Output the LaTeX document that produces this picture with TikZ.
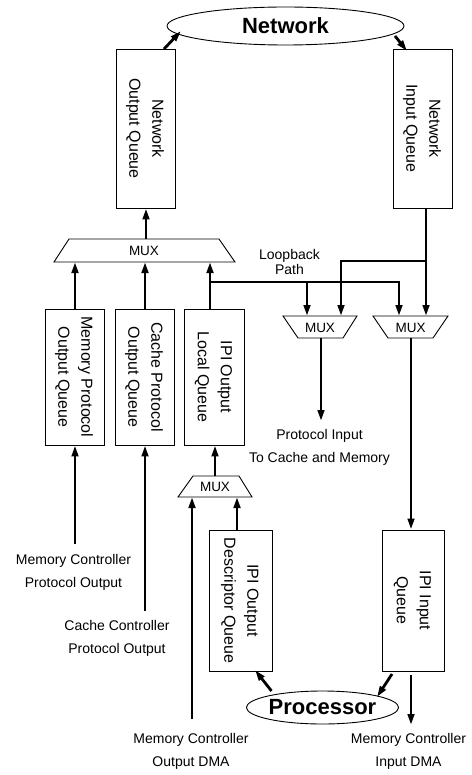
\documentclass[tikz,border=0pt]{standalone}
\usepackage{fontspec}
\usepackage{graphicx}
\setmainfont{Liberation Sans}
\usetikzlibrary{arrows.meta,shapes.geometric,calc}
\newcommand\qlabel[1]{\rotatebox{-90}{\fontsize{16}{23}\selectfont\begin{tabular}{@{}c@{}}#1\end{tabular}}}
\begin{document}
\begin{tikzpicture}[x=1pt,y=-1pt,
  box/.style={draw,line width=0.9pt,inner sep=0pt},
  arr/.style={line width=2.8pt,-{Triangle[length=11pt,width=6.5pt]}},
  lbl/.style={align=center,font=\fontsize{14}{23}\selectfont,inner sep=0pt},
  muxt/.style={font=\fontsize{13.5}{15}\selectfont,inner sep=0pt},
  trap/.style={draw,line width=0.9pt},
  big/.style={draw,ellipse,line width=0.9pt,inner sep=0pt,font=\fontsize{22}{26}\selectfont\bfseries}]
\useasboundingbox (0,0) rectangle (471,775);

% main nodes
\node[big,minimum width=237pt,minimum height=38pt] (net) at (285.5,26) {Network};
\node[box,minimum width=59pt,minimum height=159pt] (noq) at (145.5,128.5) {\qlabel{Network\\Output Queue}};
\node[box,minimum width=59pt,minimum height=159pt] (niq) at (422.5,128.5) {\qlabel{Network\\Input Queue}};
\node[box,minimum width=59pt,minimum height=136pt] (mpq) at (74.5,377) {\qlabel{Memory Protocol\\Output Queue}};
\node[box,minimum width=59pt,minimum height=136pt] (cpq) at (144.5,377) {\qlabel{Cache Protocol\\Output Queue}};
\node[box,minimum width=60pt,minimum height=136pt] (ilq) at (214,377) {\qlabel{IPI Output\\Local Queue}};
\node[box,minimum width=63pt,minimum height=141pt] (idq) at (240.5,600.5) {\qlabel{IPI Output\\Descriptor Queue}};
\node[box,minimum width=62pt,minimum height=141pt] (iiq) at (413,600.5) {\qlabel{IPI Input\\Queue}};
\node[big,minimum width=139pt,minimum height=33pt] (proc) at (322.5,707.5) {Processor};

% multiplexers
\draw[trap] (69,239) -- (219,239) -- (235,262) -- (54,262) -- cycle;
\node[muxt] (muxA) at (144,251) {MUX};
\draw[trap] (283,316) -- (357,316) -- (343,338) -- (298,338) -- cycle;
\node[muxt] (muxB) at (320,327.5) {MUX};
\draw[trap] (373,316) -- (448,316) -- (433,338) -- (388,338) -- cycle;
\node[muxt] (muxC) at (410.5,327.5) {MUX};
\draw[trap] (193,476) -- (239,476) -- (252,497) -- (178,497) -- cycle;
\node[muxt] (muxD) at (215,487) {MUX};

% ports
\coordinate (aIn1) at (75,262);
\coordinate (aIn2) at (145,262);
\coordinate (aIn3) at (210,262);
\coordinate (aOut) at (146,239);
\coordinate (bIn1) at (307,316);
\coordinate (bIn2) at (341,316);
\coordinate (bOut) at (321,338);
\coordinate (cIn1) at (399,316);
\coordinate (cIn2) at (426,316);
\coordinate (cOut) at (411,338);
\coordinate (dIn1) at (192,497);
\coordinate (dIn2) at (237,497);
\coordinate (dOut) at (215,476);
\coordinate (lj) at (210,282);
\coordinate (nj) at (426,261);
\coordinate (pie) at (321,421);
\coordinate (iiqOut) at (411,675);
\coordinate (idma) at (411,725);
\coordinate (odma) at (192,719);
\coordinate (mcpoT) at (75,544);
\coordinate (ccpoT) at (145,611);
\coordinate (noqA) at (164,49);
\coordinate (netA) at (181,31);
\coordinate (netB) at (395,36);
\coordinate (niqB) at (407,51);
\coordinate (procA) at (271.5,691);
\coordinate (idqA) at (255,670);
\coordinate (iiqB) at (392,674);
\coordinate (procB) at (377,697);

% labels
\node[lbl,font=\fontsize{14}{15}\selectfont] (loop) at (289.5,261.5) {Loopback\\Path};
\node[lbl] (pin) at (319.5,447) {Protocol Input\\To Cache and Memory};
\node[lbl] (mcpo) at (73.5,572) {Memory Controller\\Protocol Output};
\node[lbl] (ccpo) at (117,638) {Cache Controller\\Protocol Output};
\node[lbl] (mcout) at (191,751) {Memory Controller\\Output DMA};
\node[lbl] (mcin) at (408.5,751) {Memory Controller\\Input DMA};

% connectors
\draw[arr] (noqA) -- (netA);
\draw[arr] (netB) -- (niqB);
\draw[arr] (aOut) -- (aOut |- noq.south);
\draw[arr] (mpq.north -| aIn1) -- (aIn1);
\draw[arr] (cpq.north -| aIn2) -- (aIn2);
\draw[arr] (ilq.north -| aIn3) -- (aIn3);
\draw[arr] (lj) -| (cIn1);
\draw[arr] (bIn1 |- lj) -- (bIn1);
\draw[arr] (niq.south -| cIn2) -- (cIn2);
\draw[arr] (nj) -| (bIn2);
\draw[arr] (bOut) -- (pie);
\draw[arr] (cOut) -- (cOut |- iiq.north);
\draw[arr] (iiqOut) -- (idma);
\draw[arr] (dOut) -- (dOut |- ilq.south);
\draw[arr] (idq.north -| dIn2) -- (dIn2);
\draw[arr] (odma) -- (dIn1);
\draw[arr] (mcpoT) -- (mpq.south -| mcpoT);
\draw[arr] (ccpoT) -- (cpq.south -| ccpoT);
\draw[arr] (procA) -- (idqA);
\draw[arr] (iiqB) -- (procB);
\end{tikzpicture}
\end{document}
